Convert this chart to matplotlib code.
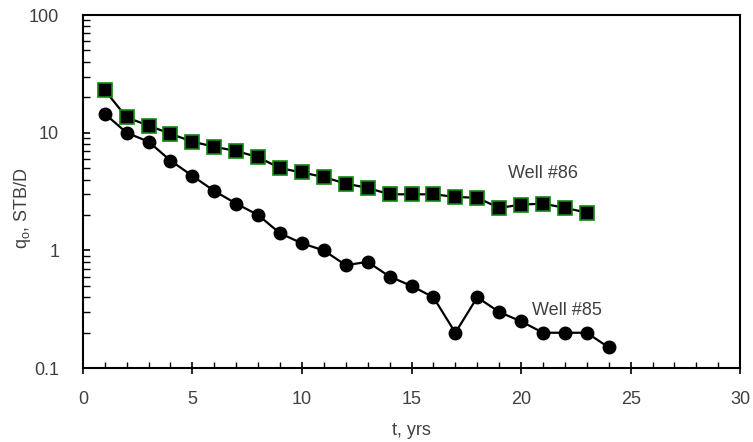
import matplotlib
matplotlib.use("Agg")
import matplotlib.pyplot as plt
from matplotlib.ticker import LogLocator, FixedLocator, NullFormatter

plt.rcParams['font.family'] = ['Liberation Sans', 'DejaVu Sans']
plt.rcParams['mathtext.fontset'] = 'custom'
plt.rcParams['mathtext.rm'] = 'Liberation Sans'

# production rate, STB/D
t86 = list(range(1, 24))
q86 = [23, 13.5, 11.5, 9.8, 8.4, 7.6, 7.0, 6.2, 5.0, 4.6, 4.2, 3.7, 3.4,
       3.0, 3.0, 3.0, 2.85, 2.8, 2.3, 2.45, 2.5, 2.3, 2.1]

t85 = list(range(1, 25))
q85 = [14.5, 10, 8.4, 5.8, 4.3, 3.2, 2.5, 2.0, 1.4, 1.15, 1.0, 0.75, 0.8,
       0.6, 0.5, 0.4, 0.2, 0.4, 0.3, 0.25, 0.2, 0.2, 0.2, 0.15]

txtcol = '#404040'

fig = plt.figure(figsize=(7.53, 4.42), dpi=100)
ax = fig.add_axes([0.110, 0.167, 0.873, 0.799])

ax.plot(t86, q86, color='black', lw=1.6, marker='s', ms=9.5,
        mfc='black', mec='#118811', mew=1.2, zorder=3)
ax.plot(t85, q85, color='black', lw=1.6, marker='o', ms=9,
        mfc='black', mec='black', zorder=3)

ax.set_yscale('log')
ax.set_xlim(0, 30)
ax.set_ylim(0.1, 100)
ax.set_yticks([0.1, 1, 10, 100])
ax.set_yticklabels(['0.1', '1', '10', '100'])
ax.yaxis.set_minor_locator(LogLocator(base=10, subs=range(2, 10)))
ax.yaxis.set_minor_formatter(NullFormatter())
ax.set_xticks([0, 5, 10, 15, 20, 25, 30])
ax.xaxis.set_minor_locator(FixedLocator(range(0, 31)))

for s in ax.spines.values():
    s.set_linewidth(1.5)

ax.tick_params(axis='x', which='major', direction='inout', length=9, width=1.2,
               pad=12, labelsize=13, labelcolor=txtcol)
ax.tick_params(axis='x', which='minor', direction='in', length=4, width=1.0)
ax.tick_params(axis='y', which='major', direction='in', length=5, width=1.2,
               pad=17, labelsize=13, labelcolor=txtcol)
ax.tick_params(axis='y', which='minor', direction='in', length=5, width=1.0)

# axis titles placed by hand so they stay inside the canvas
fig.text(0.546, 0.027, 't, yrs', fontsize=13, color=txtcol,
         ha='center', va='center')
fig.text(0.030, 0.53, r'q$_\mathregular{o}$, STB/D', fontsize=13, color=txtcol,
         ha='center', va='center', rotation=90)

ax.text(19.4, 4.5, 'Well #86', fontsize=13, color=txtcol, va='center', ha='left')
ax.text(20.5, 0.31, 'Well #85', fontsize=13, color=txtcol, va='center', ha='left')

fig.savefig('out.png', dpi=100)
